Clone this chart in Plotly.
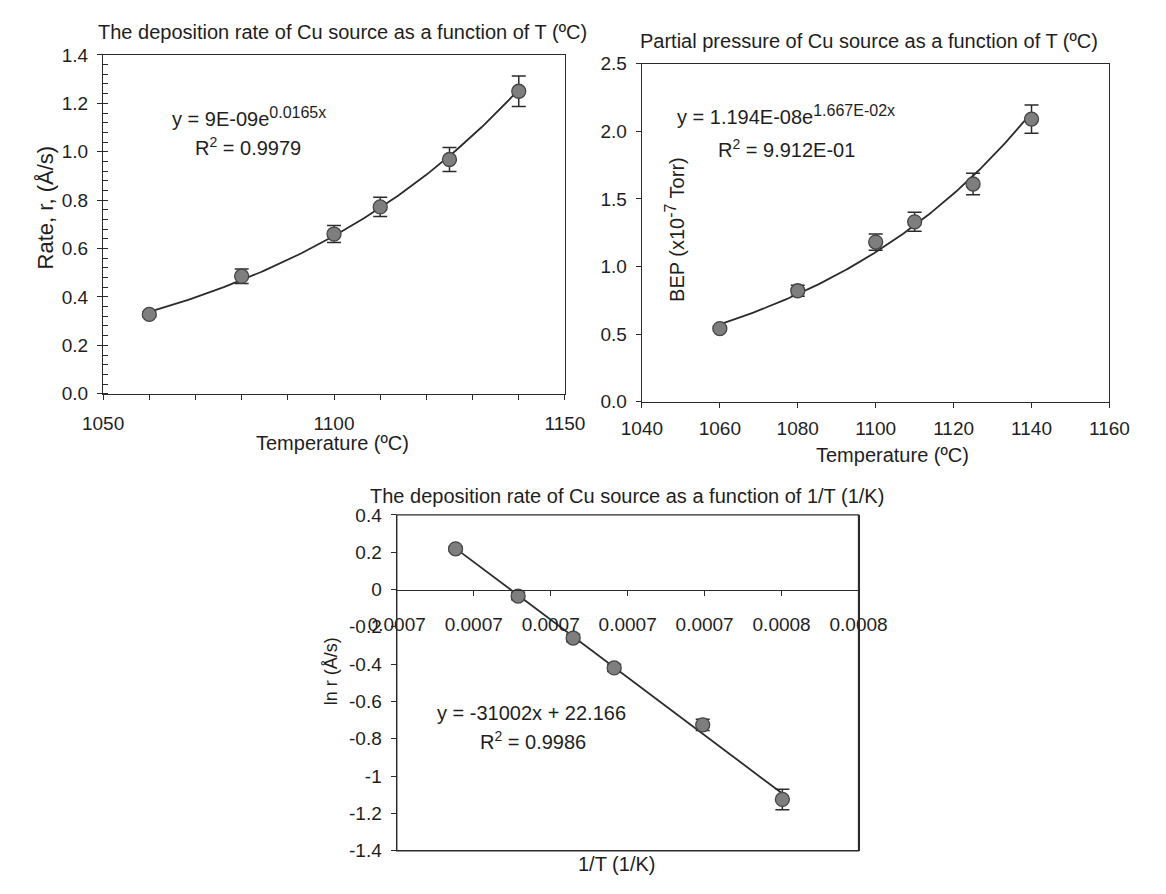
import numpy as np
import plotly.graph_objects as go

# ---------------- data ----------------
temp_c = [1060, 1080, 1100, 1110, 1125, 1140]
rate = [0.328, 0.486, 0.660, 0.772, 0.968, 1.250]
rate_err = [0.010, 0.030, 0.035, 0.040, 0.050, 0.063]

bep = [0.540, 0.820, 1.180, 1.330, 1.610, 2.090]
bep_err = [0.020, 0.040, 0.060, 0.070, 0.080, 0.105]

inv_t = [0.00075010, 0.00073975, 0.00072825, 0.00072292, 0.00071577, 0.00070764]
ln_rate = [-1.125, -0.725, -0.420, -0.260, -0.035, 0.218]
ln_rate_err = [0.055, 0.030, 0.020, 0.020, 0.020, 0.012]

x3_tickvals = [0.00070, 0.00071, 0.00072, 0.00073, 0.00074, 0.00075, 0.00076]
x3_ticktext = ["0.0007", "0.0007", "0.0007", "0.0007", "0.0007", "0.0008", "0.0008"]
y3_tickvals = [0.4, 0.2, 0.0, -0.2, -0.4, -0.6, -0.8, -1.0, -1.2, -1.4]
y3_ticktext = ["0.4", "0.2", "0", "-0.2", "-0.4", "-0.6", "-0.8", "-1", "-1.2", "-1.4"]

# ---------------- styling ----------------
W, H = 1166, 894
FONT = "Liberation Sans, Arial, sans-serif"
TXT = "#1e1e1e"
LINE = "#2b2b2b"
MK = dict(color="#7e7e7e", size=14, line=dict(color="#454545", width=1.3))
ERR = dict(type="data", color=LINE, thickness=1.5, width=7)


def px(x):
    return x / W


def py(y):
    return 1 - y / H


# trend lines computed from the data
c1 = np.polyfit(temp_c, np.log(rate), 1)
c2 = np.polyfit(temp_c, np.log(bep), 1)
c3 = np.polyfit(inv_t, ln_rate, 1)
tg = np.linspace(min(temp_c), max(temp_c), 120)
ig = np.linspace(min(inv_t), max(inv_t), 50)

fig = go.Figure()

# subplot 1
fig.add_trace(go.Scatter(x=tg, y=np.exp(np.polyval(c1, tg)), mode="lines",
                         line=dict(color=LINE, width=1.8), xaxis="x", yaxis="y",
                         hoverinfo="skip", showlegend=False))
fig.add_trace(go.Scatter(x=temp_c, y=rate, mode="markers", marker=MK,
                         error_y=dict(ERR, array=rate_err),
                         xaxis="x", yaxis="y", showlegend=False))
# subplot 2
fig.add_trace(go.Scatter(x=tg, y=np.exp(np.polyval(c2, tg)), mode="lines",
                         line=dict(color=LINE, width=1.8), xaxis="x2", yaxis="y2",
                         hoverinfo="skip", showlegend=False))
fig.add_trace(go.Scatter(x=temp_c, y=bep, mode="markers", marker=MK,
                         error_y=dict(ERR, array=bep_err),
                         xaxis="x2", yaxis="y2", showlegend=False))
# subplot 3
fig.add_trace(go.Scatter(x=ig, y=np.polyval(c3, ig), mode="lines",
                         line=dict(color=LINE, width=1.8), xaxis="x3", yaxis="y3",
                         hoverinfo="skip", showlegend=False))
fig.add_trace(go.Scatter(x=inv_t, y=ln_rate, mode="markers", marker=MK,
                         error_y=dict(ERR, array=ln_rate_err),
                         xaxis="x3", yaxis="y3", showlegend=False))

tickfont = dict(family=FONT, size=19, color=TXT)
ax_common = dict(showgrid=False, zeroline=False, showline=True, linecolor=LINE,
                 linewidth=1.4, mirror=True, tickfont=tickfont, tickcolor=LINE,
                 tickwidth=1.2, ticks="outside", ticklen=5)

# domains (pixel positions measured on the reference)
d1x, d1y = [px(78), px(564)], [py(393), py(46)]
d2x, d2y = [px(645), px(1137)], [py(401), py(55)]
d3x, d3y = [px(387), px(873)], [py(861), py(517)]

y3r = [-1.4, 0.4]
x3_pos = d3y[0] + (0 - y3r[0]) / (y3r[1] - y3r[0]) * (d3y[1] - d3y[0])

fig.update_layout(
    width=W, height=H, autosize=False,
    margin=dict(l=0, r=0, t=0, b=0),
    paper_bgcolor="white", plot_bgcolor="white",
    font=dict(family=FONT, color=TXT),
    xaxis=dict(ax_common, domain=d1x, anchor="y", range=[1050, 1150], dtick=50, tick0=1050,
               ticklabelstandoff=7,
               minor=dict(dtick=10, ticks="outside", ticklen=5, tickcolor=LINE)),
    yaxis=dict(ax_common, domain=d1y, anchor="x", range=[0, 1.4], dtick=0.2, tickformat=".1f",
               ticklabelstandoff=5,
               minor=dict(dtick=0.04, ticks="inside", ticklen=5, tickcolor=LINE)),
    xaxis2=dict(ax_common, domain=d2x, anchor="y2", range=[1040, 1160], dtick=20, tick0=1040,
                ticklabelstandoff=4),
    yaxis2=dict(ax_common, domain=d2y, anchor="x2", range=[0, 2.5], dtick=0.5, tickformat=".1f",
                ticklabelstandoff=5),
    xaxis3=dict(showgrid=False, zeroline=False, showline=True, linecolor=LINE, linewidth=1.4,
                domain=d3x, anchor="free", position=x3_pos, range=[0.00070, 0.00076],
                tickmode="array", tickvals=x3_tickvals, ticktext=x3_ticktext,
                ticks="outside", ticklen=5, tickcolor=LINE, tickwidth=1.2, tickfont=tickfont,
                ticklabelstandoff=12),
    yaxis3=dict(ax_common, domain=d3y, anchor="x3", range=y3r,
                tickmode="array", tickvals=y3_tickvals, ticktext=y3_ticktext,
                ticklabelstandoff=5),
)

# frame for subplot 3 (its x axis sits at y = 0)
fig.add_shape(type="rect", xref="x3 domain", yref="y3 domain", x0=0, x1=1, y0=0, y1=1,
              line=dict(color=LINE, width=1.4), fillcolor="rgba(0,0,0,0)")


def note(x, y, text, size=20, angle=0):
    fig.add_annotation(x=px(x), y=py(y), xref="paper", yref="paper", text=text,
                       showarrow=False, xanchor="center", yanchor="middle",
                       textangle=angle, font=dict(family=FONT, size=size, color=TXT))


def sup(t, s=16):
    return '<sup><span style="font-size:%dpx">' % s + t + "</span></sup>"


# titles
note(330, 23, "The deposition rate of Cu source as a function of T (ºC)")
note(884, 32, "Partial pressure of Cu source as a function of T (ºC)")
note(629, 498, "The deposition rate of Cu source as a function of 1/T (1/K)")
# axis titles
note(319, 443, "Temperature (ºC)")
note(17, 203, "Rate, r, (Å/s)", size=22, angle=-90)
note(909, 456, "Temperature (ºC)")
note(679, 225, "BEP (x10" + sup("-7") + " Torr)", angle=-90)
note(618, 875, "1/T (1/K)")
note(318, 677, "ln r (Å/s)", size=18, angle=-90)
# fit equations
note(231, 110, "y = 9E-09e" + sup("0.0165x"))
note(230, 140, "R" + sup("2", 14) + " = 0.9979")
note(797, 108, "y = 1.194E-08e" + sup("1.667E-02x"))
note(797, 142, "R" + sup("2", 14) + " = 9.912E-01")
note(529, 720, "y = -31002x + 22.166")
note(530, 748, "R" + sup("2", 14) + " = 0.9986")

fig.write_html("out.html")
